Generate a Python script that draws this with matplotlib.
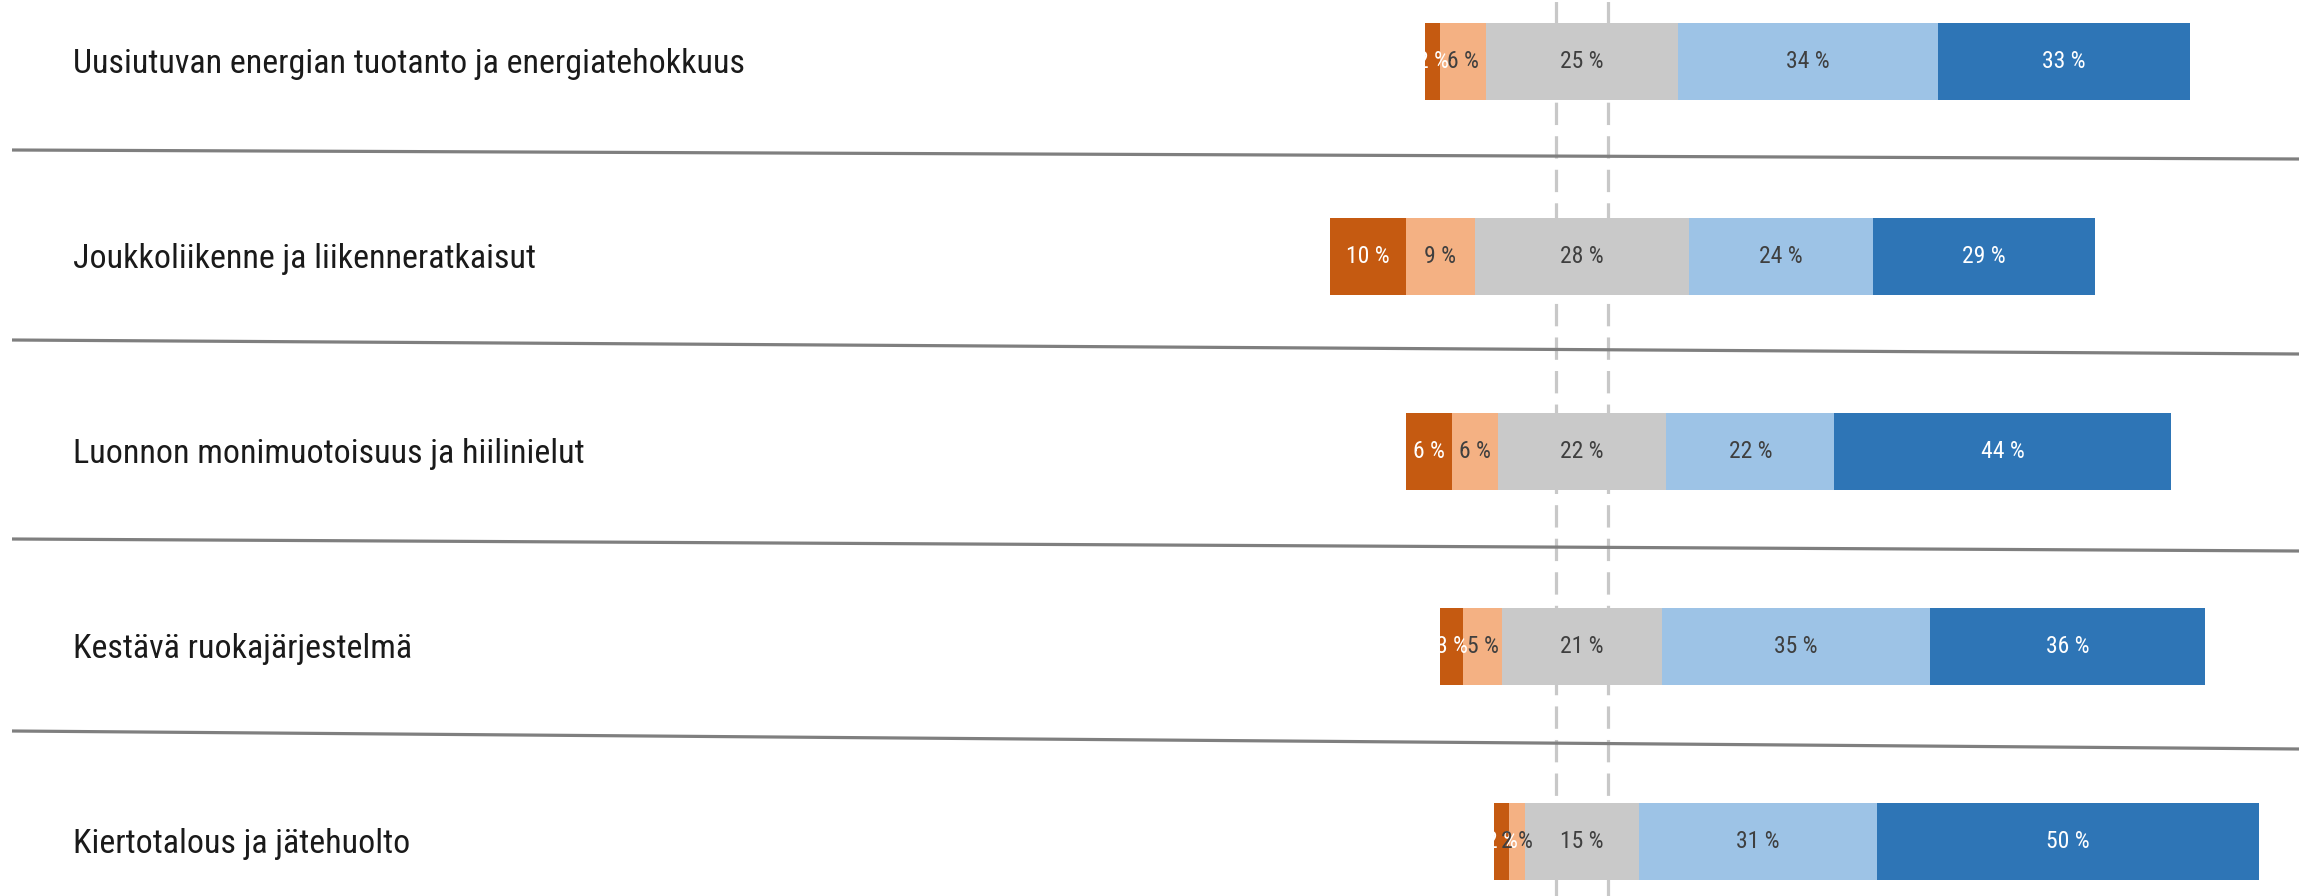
import matplotlib
matplotlib.use("Agg")
import matplotlib.pyplot as plt
import matplotlib.transforms as mtransforms
from matplotlib import font_manager

# ── data ─────────────────────────────────────────────────────────────────────
categories = [
    "Uusiutuvan energian tuotanto ja energiatehokkuus",
    "Joukkoliikenne ja liikenneratkaisut",
    "Luonnon monimuotoisuus ja hiilinielut",
    "Kestävä ruokajärjestelmä",
    "Kiertotalous ja jätehuolto",
]
very_neg = [2, 10, 6, 3, 2]
neg      = [6, 9, 6, 5, 2]
neutral  = [25, 28, 22, 21, 15]
pos      = [34, 24, 22, 35, 31]
very_pos = [33, 29, 44, 36, 50]

series = [very_neg, neg, neutral, pos, very_pos]
colors = ["#C55A11", "#F4B183", "#C9C9C9", "#9DC3E6", "#2E75B6"]
text_colors = ["white", "#3F3F3F", "#3F3F3F", "#3F3F3F", "white"]
ref_lines = [-3.4, 3.4]   # dashed guide lines around the centre

# ── font ─────────────────────────────────────────────────────────────────────
names = {f.name for f in font_manager.fontManager.ttflist}
font = next((n for n in ["Liberation Sans Narrow", "Roboto Condensed", "Open Sans"]
             if n in names), "DejaVu Sans")
plt.rcParams["font.family"] = [font, "DejaVu Sans"]

# ── figure ───────────────────────────────────────────────────────────────────
W, H, DPI = 2303, 896, 100
fig = plt.figure(figsize=(W / DPI, H / DPI), dpi=DPI)
ax = fig.add_axes([0, 0, 1, 1])

CENTER_PX = 1582
PX_PER_PCT = 7.65
ax.set_xlim(-CENTER_PX / PX_PER_PCT, (W - CENTER_PX) / PX_PER_PCT)
ROW0, ROW_STEP = 61.7, 195.0
ax.set_ylim((H - ROW0) / ROW_STEP, -ROW0 / ROW_STEP)
ax.axis("off")

ypos = list(range(len(categories)))

# dashed guide lines (behind bars)
for xv in ref_lines:
    ax.axvline(xv, color="#C8C8C8", lw=2.3, ls=(0, (7, 3.5)), zorder=1)

# diverging stacked bars, centred on the middle of the neutral segment
bar_h = 77 / ROW_STEP
labels = []
for i in ypos:
    left = -(very_neg[i] + neg[i] + neutral[i] / 2)
    for s, vals in enumerate(series):
        ax.barh(i, vals[i], left=left, height=bar_h, color=colors[s],
                edgecolor="none", zorder=2)
        labels.append((left + vals[i] / 2, i, f"{vals[i]} %", text_colors[s]))
        left += vals[i]

for x, y, txt, c in labels:
    ax.text(x, y, txt, ha="center", va="center", fontsize=17, color=c, zorder=4)

# category labels
blend = mtransforms.blended_transform_factory(ax.transAxes, ax.transData)
for i, cat in enumerate(categories):
    ax.text(73 / W, i + 0.012, cat, transform=blend, ha="left", va="center",
            fontsize=24.5, color="#1a1a1a")

# slightly slanted separator lines between rows
sep_left = [150, 340, 539, 731]
sep_right = [159, 354, 551, 749]
for yl, yr in zip(sep_left, sep_right):
    ax.plot([12 / W, 2299 / W],
            [(yl - ROW0) / ROW_STEP, (yr - ROW0) / ROW_STEP],
            transform=blend, color="#7F7F7F", lw=2.3, zorder=3,
            solid_capstyle="butt")

fig.savefig("out.png", dpi=DPI)
